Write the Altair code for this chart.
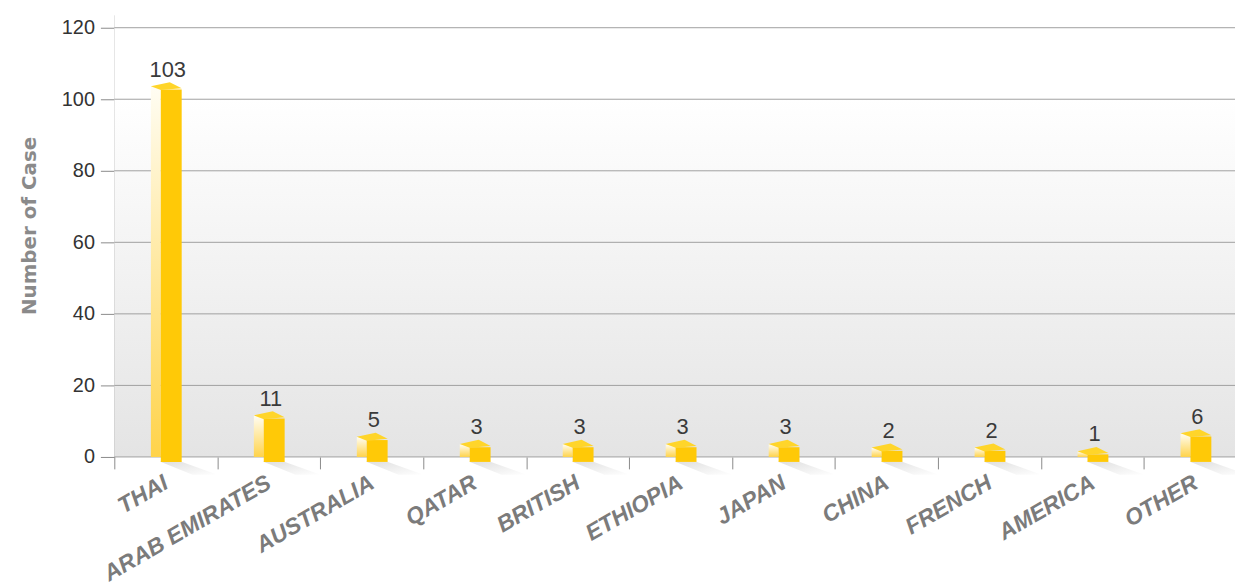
import altair as alt
import pandas as pd

countries = ["THAI", "ARAB EMIRATES", "AUSTRALIA", "QATAR", "BRITISH", "ETHIOPIA",
             "JAPAN", "CHINA", "FRENCH", "AMERICA", "OTHER"]
cases = [103, 11, 5, 3, 3, 3, 3, 2, 2, 1, 6]
y_ticks = [0, 20, 40, 60, 80, 100, 120]

df = pd.DataFrame({"country": countries, "cases": cases, "base": [0] * len(countries)})
grid_df = pd.DataFrame({"tick": y_ticks})
bg_df = pd.DataFrame({"k": [0]})

W = 1128
H = 445
FONT = "Liberation Sans"

x_scale = alt.Scale(domain=countries, range=[0, 1140], paddingInner=0, paddingOuter=0)
y_scale = alt.Scale(domain=[0, 123.6], nice=False, zero=True)

x_axis = alt.Axis(
    title=None, domain=False, ticks=True, tickBand="extent", tickSize=12,
    tickColor="#8a8a8a", tickWidth=1, labelAngle=-30, labelAlign="right",
    labelBaseline="middle", labelFontSize=23, labelFont=FONT, labelFontStyle="italic",
    labelFontWeight="bold", labelColor="#7b7b7b", labelPadding=12, labelLimit=600,
    labelBound=False, labelOverlap=False, labelFlush=False,
)
y_axis = alt.Axis(
    values=y_ticks, grid=False, domain=True, domainColor="#8a8a8a", tickColor="#8a8a8a",
    tickSize=14, labelFontSize=20, labelFont=FONT, labelColor="#333333", labelPadding=6,
    title="Number of Case", titleFont="DejaVu Sans", titleFontSize=20, titleFontWeight="bold",
    titleColor="#8a8a8a", titlePadding=22, titleY=212,
)

X = alt.X("country:N", scale=x_scale, axis=x_axis, sort=countries)
Y = alt.Y("cases:Q", scale=y_scale, axis=y_axis)

bg = alt.Chart(bg_df).mark_rect(
    fill=alt.Gradient(
        gradient="linear", x1=0, y1=0, x2=0, y2=1,
        stops=[alt.GradientStop(offset=0, color="#ffffff"),
               alt.GradientStop(offset=0.19, color="#ffffff"),
               alt.GradientStop(offset=1, color="#e4e4e4")],
    )
).encode(x=alt.value(0), x2=alt.value(W), y=alt.value(0), y2=alt.value(H))

grid = alt.Chart(grid_df).mark_rule(color="#a0a0a0", strokeWidth=1).encode(
    y=alt.Y("tick:Q", scale=y_scale, axis=y_axis), x=alt.value(0), x2=alt.value(W)
)

shadow = alt.Chart(df).mark_point(
    shape="M -0.1 0.075 L 0.25 0.075 L 0.87 0.3 L 0.45 0.3 Z",
    size=14400, filled=True, strokeWidth=0, opacity=1,
    fill=alt.Gradient(
        gradient="linear", x1=0, y1=0, x2=1, y2=1,
        stops=[alt.GradientStop(offset=0, color="#dedede"),
               alt.GradientStop(offset=0.5, color="#efefef"),
               alt.GradientStop(offset=1, color="#ffffff")],
    ),
).encode(x=X, y=alt.Y("base:Q", scale=y_scale, axis=y_axis))

left_face = alt.Chart(df).mark_bar(
    size=10, xOffset=-10, yOffset=-2, y2Offset=0,
    fill=alt.Gradient(
        gradient="linear", x1=0, y1=0, x2=0, y2=1,
        stops=[alt.GradientStop(offset=0, color="#fffdf3"),
               alt.GradientStop(offset=1, color="#ffd34a")],
    ),
).encode(x=X, y=Y, y2=alt.Y2("base:Q"))

front_face = alt.Chart(df).mark_bar(
    size=21, xOffset=5.5, yOffset=1, y2Offset=5, color="#ffc907"
).encode(x=X, y=Y, y2=alt.Y2("base:Q"))

top_face = alt.Chart(df).mark_point(
    shape="M -0.94 -0.14 L 0.25 -0.4 L 1 -0.02 L -0.31 0.1 Z",
    size=1024, filled=True, strokeWidth=0, opacity=1, fill="#ffd52a",
).encode(x=X, y=Y)

labels = alt.Chart(df).mark_text(
    dy=-12, dx=2, baseline="alphabetic", fontSize=22, font=FONT, color="#3a3a3a"
).encode(x=X, y=Y, text="cases:Q")

chart = alt.layer(bg, grid, shadow, left_face, front_face, top_face, labels).properties(
    width=W, height=H,
    padding={"left": 107, "top": 5, "right": 0, "bottom": 125},
    autosize=alt.AutoSizeParams(type="none"),
).configure_view(strokeWidth=0)

chart.save("out.html", embed_options={"renderer": "svg", "actions": False})
